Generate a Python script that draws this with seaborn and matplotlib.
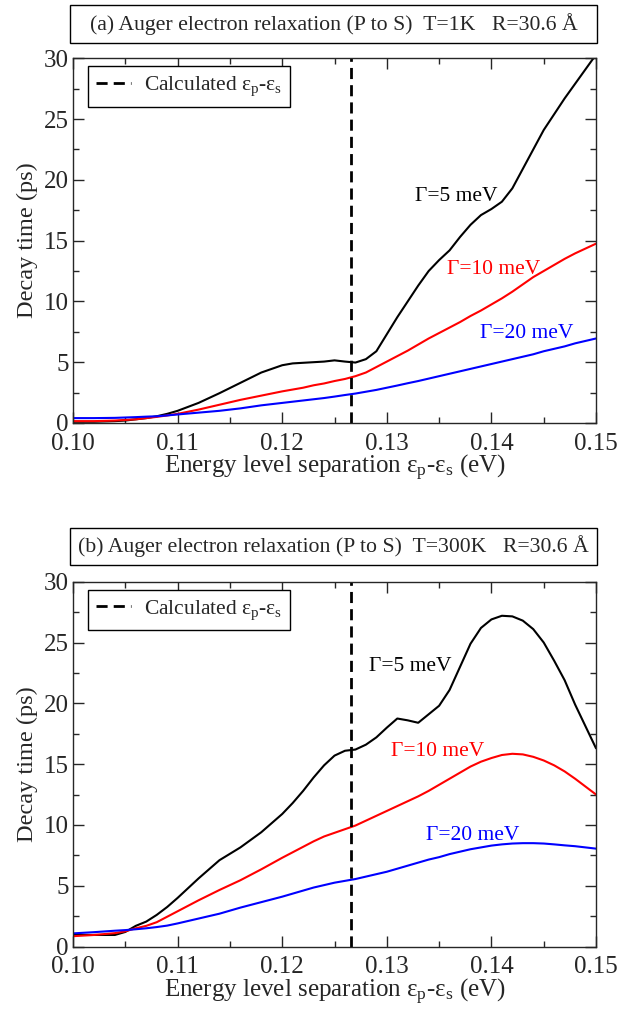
import numpy as np
import pandas as pd
import matplotlib
matplotlib.use("Agg")
import matplotlib.pyplot as plt
from matplotlib.patches import Rectangle
from matplotlib.ticker import MultipleLocator
import seaborn as sns

# =========================
# DATA
# =========================

energy = [0.100, 0.102, 0.104, 0.105, 0.106, 0.107, 0.108, 0.109, 0.110, 0.112,
          0.114, 0.116, 0.118, 0.120, 0.121, 0.122, 0.123, 0.124, 0.125, 0.126,
          0.127, 0.128, 0.129, 0.130, 0.131, 0.132, 0.133, 0.134, 0.135, 0.136,
          0.137, 0.138, 0.139, 0.140, 0.141, 0.142, 0.143, 0.144, 0.145, 0.146,
          0.147, 0.148, 0.149, 0.150]

# panel (a) T = 1 K
t1_g5 = [0.1, 0.1, 0.15, 0.2, 0.3, 0.4, 0.55, 0.75, 1.0, 1.65,
         2.45, 3.3, 4.15, 4.75, 4.9, 4.95, 5.0, 5.05, 5.15, 5.05,
         4.97, 5.25, 5.9, 7.3, 8.7, 10.0, 11.3, 12.5, 13.4, 14.2,
         15.3, 16.3, 17.1, 17.6, 18.2, 19.3, 20.9, 22.5, 24.1, 25.4,
         26.7, 27.9, 29.1, 30.3]
t1_g10 = [0.15, 0.15, 0.2, 0.25, 0.3, 0.4, 0.5, 0.62, 0.75, 1.1,
          1.5, 1.9, 2.25, 2.6, 2.75, 2.9, 3.1, 3.25, 3.45, 3.62,
          3.85, 4.15, 4.6, 5.05, 5.5, 5.95, 6.45, 6.95, 7.4, 7.85,
          8.3, 8.8, 9.25, 9.75, 10.25, 10.8, 11.4, 12.0, 12.5, 13.0,
          13.5, 13.95, 14.35, 14.75]
t1_g20 = [0.4, 0.4, 0.42, 0.45, 0.48, 0.52, 0.55, 0.62, 0.7, 0.85,
          1.0, 1.2, 1.45, 1.65, 1.75, 1.85, 1.95, 2.05, 2.17, 2.3,
          2.42, 2.57, 2.72, 2.9, 3.08, 3.27, 3.45, 3.65, 3.85, 4.05,
          4.25, 4.45, 4.65, 4.85, 5.05, 5.25, 5.45, 5.65, 5.9, 6.1,
          6.3, 6.55, 6.75, 6.95]

# panel (b) T = 300 K
t300_g5 = [0.95, 0.95, 0.95, 1.2, 1.7, 2.05, 2.6, 3.25, 4.0, 5.6,
           7.1, 8.15, 9.4, 10.9, 11.8, 12.8, 13.9, 14.9, 15.7, 16.1,
           16.2, 16.6, 17.2, 18.0, 18.75, 18.6, 18.4, 19.1, 19.8, 21.1,
           23.0, 24.9, 26.2, 26.9, 27.2, 27.15, 26.8, 26.1, 25.0, 23.5,
           21.9, 19.9, 18.1, 16.3]
t300_g10 = [0.85, 0.95, 1.1, 1.25, 1.5, 1.7, 2.0, 2.45, 2.9, 3.8,
            4.65, 5.45, 6.35, 7.3, 7.75, 8.2, 8.65, 9.05, 9.35, 9.65,
            9.95, 10.35, 10.75, 11.15, 11.55, 11.95, 12.35, 12.8, 13.3, 13.8,
            14.3, 14.8, 15.2, 15.5, 15.75, 15.85, 15.8, 15.6, 15.3, 14.9,
            14.4, 13.8, 13.15, 12.5]
t300_g20 = [1.08, 1.18, 1.3, 1.35, 1.42, 1.5, 1.6, 1.72, 1.9, 2.3,
            2.7, 3.2, 3.65, 4.1, 4.35, 4.6, 4.85, 5.05, 5.25, 5.4,
            5.55, 5.75, 5.95, 6.15, 6.4, 6.65, 6.9, 7.15, 7.35, 7.6,
            7.8, 8.0, 8.15, 8.3, 8.4, 8.47, 8.5, 8.5, 8.47, 8.4,
            8.32, 8.25, 8.15, 8.05]

calc_sep = 0.1266

gamma_labels = ["\u0393=5 meV", "\u0393=10 meV", "\u0393=20 meV"]
colors = ["black", "red", "blue"]

titles = ["(a) Auger electron relaxation (P to S)  T=1K   R=30.6 \u00c5",
          "(b) Auger electron relaxation (P to S)  T=300K   R=30.6 \u00c5"]

# label anchor (x, y) in data coords for each panel
label_pos = [
    [(0.1366, 18.6), (0.1402, 12.6), (0.1434, 7.4)],
    [(0.1322, 23.0), (0.1349, 16.0), (0.1382, 9.1)],
]

panels = [(t1_g5, t1_g10, t1_g20), (t300_g5, t300_g10, t300_g20)]

# =========================
# STYLE
# =========================

sns.set_style("ticks")
plt.rcParams["font.family"] = ["Liberation Serif", "DejaVu Serif"]
plt.rcParams["mathtext.fontset"] = "custom"
plt.rcParams["mathtext.rm"] = "Liberation Serif"
plt.rcParams["mathtext.it"] = "Liberation Serif:italic"
plt.rcParams["axes.linewidth"] = 1.0

fig = plt.figure(figsize=(6.44, 10.17), dpi=100)

ax_rects = [
    [0.1134, 0.5841, 0.8121, 0.3586],
    [0.1134, 0.0693, 0.8121, 0.3587],
]
title_boxes = [(70, 5, 597, 43), (70, 528, 597, 565)]

W, H = 644, 1017

for i, (curves, rect) in enumerate(zip(panels, ax_rects)):
    ax = fig.add_axes(rect)

    df = pd.DataFrame({"energy": energy})
    for lab, vals in zip(gamma_labels, curves):
        df[lab] = vals
    long_df = df.melt(id_vars="energy", var_name="gamma", value_name="decay")

    sns.lineplot(
        data=long_df,
        x="energy",
        y="decay",
        hue="gamma",
        hue_order=gamma_labels,
        palette=colors,
        lw=1.5,
        legend=False,
        ax=ax,
    )

    vline = ax.axvline(calc_sep, color="black", lw=2,
                       linestyle=(0, (4, 2.2)),
                       label="Calculated \u03b5$_\\mathrm{p}$-\u03b5$_\\mathrm{s}$")

    leg = ax.legend(handles=[vline], loc="upper left",
                    bbox_to_anchor=(0.028, 0.978), borderaxespad=0,
                    fancybox=False, edgecolor="black", framealpha=1,
                    fontsize=15.5, handlelength=1.6, handletextpad=0.6,
                    borderpad=0.4)
    leg.get_frame().set_linewidth(1.0)

    for (lx, ly), lab, c in zip(label_pos[i], gamma_labels, colors):
        ax.text(lx, ly, lab, color=c, fontsize=15.5, ha="center", va="center")

    ax.set_xlim(0.10, 0.15)
    ax.set_ylim(0, 30)
    ax.xaxis.set_major_locator(MultipleLocator(0.01))
    ax.xaxis.set_minor_locator(MultipleLocator(0.005))
    ax.yaxis.set_major_locator(MultipleLocator(5))
    ax.yaxis.set_minor_locator(MultipleLocator(2.5))
    ax.set_xticklabels([f"{v:.2f}" for v in ax.get_xticks()])
    ax.tick_params(which="both", direction="in", top=True, right=True,
                   width=1.0, labelsize=18)
    ax.tick_params(axis="x", pad=7)
    ax.tick_params(axis="y", pad=3)
    ax.tick_params(which="major", length=8)
    ax.tick_params(which="minor", length=4)

    ax.set_xlabel("Energy level separation \u03b5$_\\mathrm{p}$-\u03b5$_\\mathrm{s}$ (eV)",
                  fontsize=18, labelpad=-1)
    ax.set_ylabel("Decay time (ps)", fontsize=17.5, labelpad=4)

    # title box above each panel
    x0, y0, x1, y1 = title_boxes[i]
    fig.add_artist(Rectangle((x0 / W, 1 - y1 / H), (x1 - x0) / W, (y1 - y0) / H,
                             transform=fig.transFigure, fill=False,
                             edgecolor="black", lw=1.0))
    fig.text((x0 + x1) / 2 / W, 1 - (y0 + y1) / 2 / H, titles[i],
             ha="center", va="center", fontsize=15.7)

fig.savefig("out.png", dpi=100)
